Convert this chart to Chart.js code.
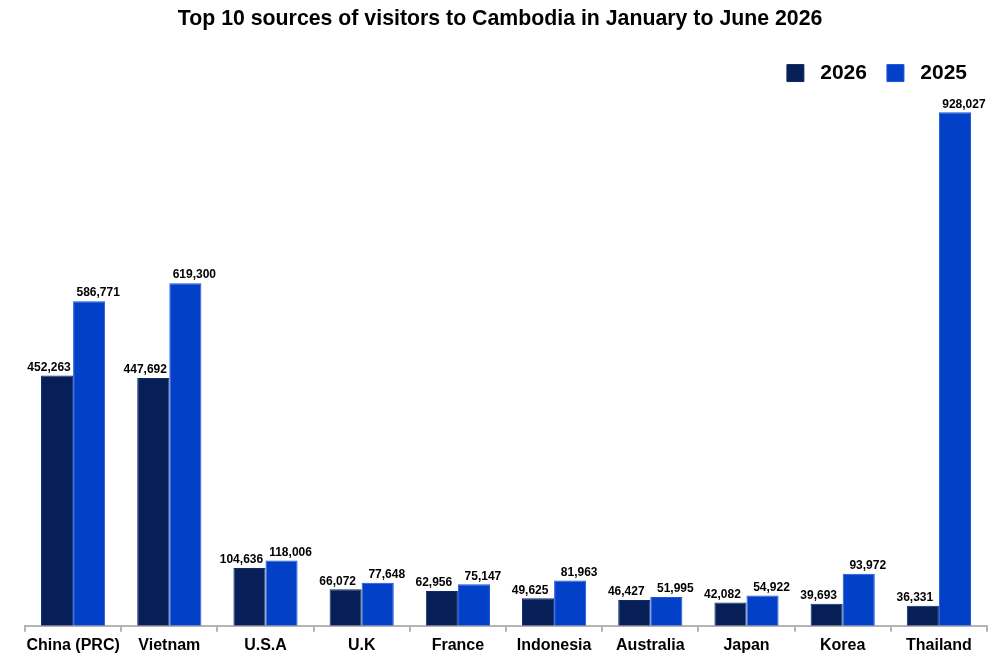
<!DOCTYPE html>
<html>
<head>
<meta charset="utf-8">
<script src="https://cdn.jsdelivr.net/npm/chart.js@4/dist/chart.umd.min.js"></script>
<style>
    html, body { margin: 0; padding: 0; background: #fff; }
    #wrap { width: 1000px; height: 667px; }
</style>
</head>
<body>
<div id="wrap"><canvas id="visitorChart"></canvas></div>
<script>
// Data
const countries = ['China (PRC)', 'Vietnam', 'U.S.A', 'U.K', 'France', 'Indonesia', 'Australia', 'Japan', 'Korea', 'Thailand'];
const visitors2026 = [452263, 447692, 104636, 66072, 62956, 49625, 46427, 42082, 39693, 36331];
const visitors2025 = [586771, 619300, 118006, 77648, 75147, 81963, 51995, 54922, 93972, 928027];

const FONT = 'Liberation Sans, Arial, sans-serif';

// Value labels above each bar, nudged left (2026) or right (2025)
const barLabels = {
    id: 'barLabels',
    afterDatasetsDraw(chart) {
        const ctx = chart.ctx;
        ctx.save();
        ctx.font = 'bold 12px ' + FONT;
        ctx.fillStyle = '#000';
        ctx.textAlign = 'center';
        ctx.textBaseline = 'bottom';
        chart.data.datasets.forEach((ds, i) => {
            const shift = i === 0 ? -8 : 9;
            chart.getDatasetMeta(i).data.forEach((bar, j) => {
                ctx.fillText(ds.data[j].toLocaleString('en-US'), bar.x + shift, bar.y - 2);
            });
        });
        ctx.restore();
    }
};

const ctx = document.getElementById('visitorChart').getContext('2d');
new Chart(ctx, {
    type: 'bar',
    data: {
        labels: countries,
        datasets: [
            {
                label: ' 2026',
                data: visitors2026,
                backgroundColor: '#061f56',
                borderColor: '#0d2a6e',
                borderWidth: 1
            },
            {
                label: ' 2025',
                data: visitors2025,
                backgroundColor: '#0340c8',
                borderColor: '#1c52e6',
                borderWidth: 1
            }
        ]
    },
    options: {
        responsive: true,
        maintainAspectRatio: false,
        animation: false,
        datasets: {
            bar: { categoryPercentage: 0.667, barPercentage: 1.0 }
        },
        layout: {
            padding: { left: 25, right: 13, top: 0, bottom: 8 }
        },
        plugins: {
            title: {
                display: true,
                // trailing spaces pull the centred title back to the page centre
                text: 'Top 10 sources of visitors to Cambodia in January to June 2026  ',
                color: '#000',
                font: { family: FONT, size: 21.3, weight: 'bold' },
                padding: { top: 6, bottom: 11 }
            },
            legend: {
                position: 'top',
                align: 'end',
                labels: {
                    color: '#000',
                    font: { family: FONT, size: 21, weight: 'bold' },
                    boxWidth: 17,
                    boxHeight: 17,
                    padding: 20
                }
            },
            tooltip: { enabled: false }
        },
        scales: {
            x: {
                grid: {
                    offset: true,
                    drawOnChartArea: false,
                    drawTicks: true,
                    tickLength: 6,
                    color: '#b4b4b4',
                    lineWidth: 2
                },
                border: { color: '#b4b4b4', width: 2 },
                ticks: {
                    color: '#000',
                    font: { family: FONT, size: 16, weight: 'bold' },
                    padding: 4,
                    maxRotation: 0,
                    autoSkip: false
                }
            },
            y: {
                display: false,
                beginAtZero: true,
                max: 962000
            }
        }
    },
    plugins: [barLabels]
});
</script>
</body>
</html>
